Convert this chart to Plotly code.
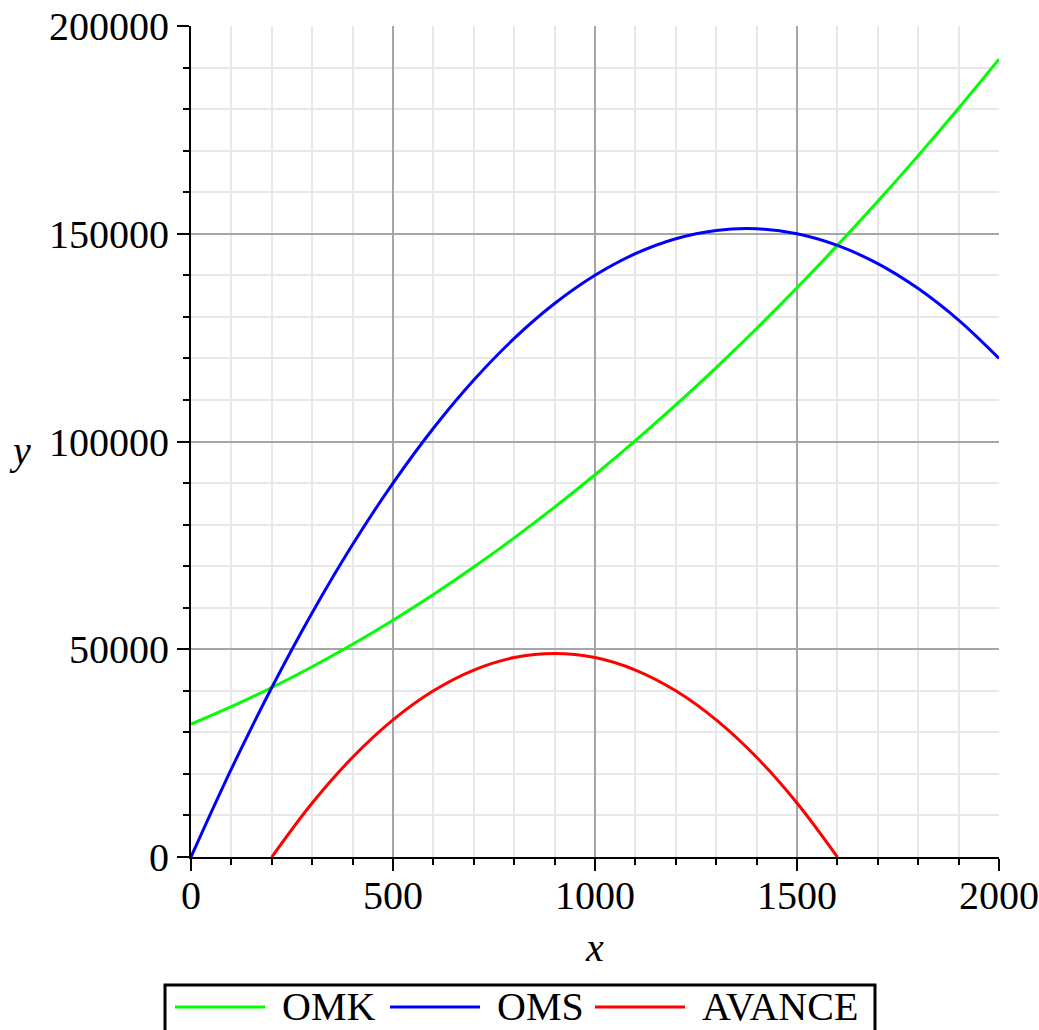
import plotly.graph_objects as go

# ---- data ----
x_vals = [0, 100, 200, 300, 400, 500, 600, 700, 800, 900, 1000,
          1100, 1200, 1300, 1400, 1500, 1600, 1700, 1800, 1900, 2000]
omk = [32000, 36200, 40800, 45800, 51200, 57000, 63200, 69800, 76800, 84200, 92000,
       100200, 108800, 117800, 127200, 137000, 147200, 157800, 168800, 180200, 192000]
oms = [0, 21200, 40800, 58800, 75200, 90000, 103200, 114800, 124800, 133200, 140000,
       145200, 148800, 150800, 151200, 150000, 147200, 142800, 136800, 129200, 120000]
avance_x = [200, 300, 400, 500, 600, 700, 800, 900, 1000, 1100, 1200, 1300, 1400, 1500, 1600]
avance = [0, 13000, 24000, 33000, 40000, 45000, 48000, 49000, 48000, 45000, 40000,
          33000, 24000, 13000, 0]

names = ["OMK", "OMS", "AVANCE"]
colors = ["#00ff00", "#0000ff", "#ff0000"]

W, H = 1039, 1030
L, R, T, B = 191, 40, 26, 173
PW, PH = W - L - R, H - T - B

def px(xp):
    return (xp - L) / PW

def py(yp):
    return (T + PH - yp) / PH

FONT = "Liberation Serif, Times New Roman, serif"

fig = go.Figure()
series = [(x_vals, omk), (x_vals, oms), (avance_x, avance)]
for (xs, ys), n, c in zip(series, names, colors):
    fig.add_trace(go.Scatter(x=xs, y=ys, mode="lines", name=n,
                             line=dict(color=c, width=3, shape="spline", smoothing=1.0),
                             showlegend=False))

axis_common = dict(
    showline=True, linecolor="black", linewidth=2,
    ticks="outside", ticklen=12, tickwidth=2, tickcolor="black",
    showgrid=True, gridcolor="#a6a6a6", gridwidth=2,
    zeroline=False, automargin=False, tickformat="d",
    tickfont=dict(family=FONT, size=40, color="black"),
)

fig.update_xaxes(range=[0, 2000], dtick=500, tick0=0, ticklabelstandoff=-10,
                 minor=dict(dtick=100, ticklen=6, tickwidth=2, tickcolor="black",
                            showgrid=True, gridcolor="#e8e8e8", gridwidth=2, ticks="outside"),
                 **axis_common)
fig.update_yaxes(range=[0, 200000], dtick=50000, tick0=0,
                 minor=dict(dtick=10000, ticklen=6, tickwidth=2, tickcolor="black",
                            showgrid=True, gridcolor="#e8e8e8", gridwidth=2, ticks="outside"),
                 **axis_common)

annotations = [
    dict(text="<i>x</i>", x=px(594), y=py(947), xref="paper", yref="paper",
         showarrow=False, font=dict(family=FONT, size=40, color="black"),
         xanchor="center", yanchor="middle"),
    dict(text="<i>y</i>", x=px(20), y=py(450), xref="paper", yref="paper",
         showarrow=False, font=dict(family=FONT, size=40, color="black"),
         xanchor="center", yanchor="middle"),
]

shapes = [dict(type="rect", xref="paper", yref="paper",
               x0=px(165), x1=px(875), y0=py(1045), y1=py(985),
               line=dict(color="black", width=3), fillcolor="white", layer="above")]

leg_line_x = [(175, 265), (390, 480), (595, 685)]
leg_text_x = [280, 495, 700]
leg_y = 1007
for (a, b), tx, n, c in zip(leg_line_x, leg_text_x, names, colors):
    shapes.append(dict(type="line", xref="paper", yref="paper",
                       x0=px(a), x1=px(b), y0=py(leg_y), y1=py(leg_y),
                       line=dict(color=c, width=3), layer="above"))
    annotations.append(dict(text=n, x=px(tx), y=py(leg_y), xref="paper", yref="paper",
                            showarrow=False, xanchor="left", yanchor="middle",
                            font=dict(family=FONT, size=40, color="black")))

fig.update_layout(
    width=W, height=H,
    margin=dict(l=L, r=R, t=T, b=B, pad=0, autoexpand=False),
    plot_bgcolor="white", paper_bgcolor="white",
    annotations=annotations, shapes=shapes,
    showlegend=False,
)

fig.write_html("out.html")
